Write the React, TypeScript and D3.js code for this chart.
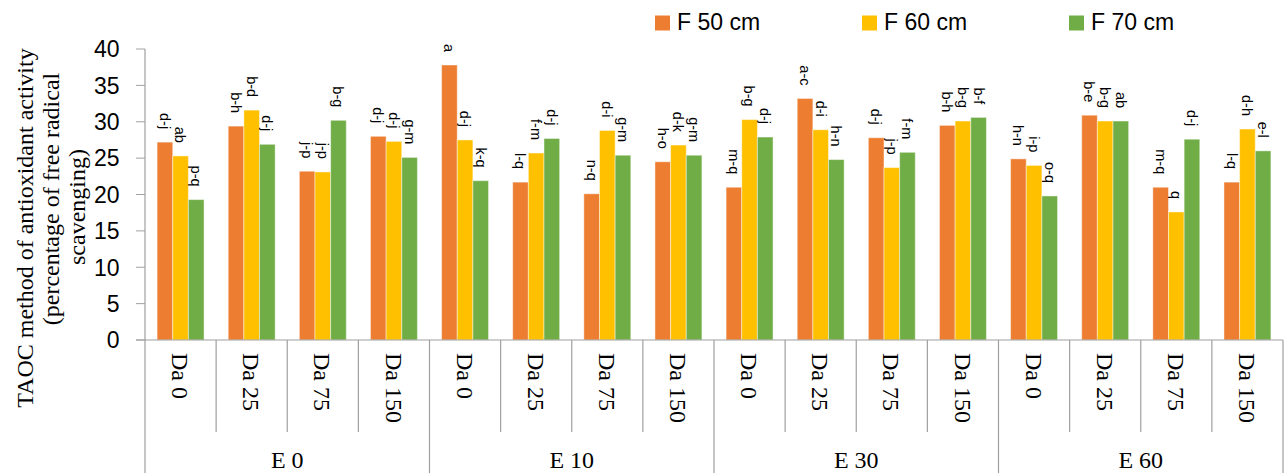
import React from "react";
import * as d3 from "d3";

const groups = ["E 0", "E 10", "E 30", "E 60"];
const doses = ["Da 0", "Da 25", "Da 75", "Da 150"];
const seriesNames = ["F 50 cm", "F 60 cm", "F 70 cm"];
const seriesColors = ["#ED7D31", "#FFC000", "#70AD47"];

const f50 = [27.2, 29.4, 23.2, 28.0, 37.8, 21.7, 20.1, 24.5, 21.0, 33.2, 27.8, 29.5, 24.9, 30.9, 21.0, 21.7];
const f60 = [25.3, 31.6, 23.1, 27.3, 27.5, 25.7, 28.8, 26.8, 30.3, 28.9, 23.7, 30.1, 24.0, 30.1, 17.6, 29.0];
const f70 = [19.3, 26.9, 30.2, 25.1, 21.9, 27.7, 25.4, 25.4, 27.9, 24.8, 25.8, 30.6, 19.8, 30.1, 27.6, 26.0];

const l50 = ["d-j", "b-h", "j-p", "d-j", "a", "l-q", "n-q", "h-o", "m-q", "a-c", "d-j", "b-h", "h-n", "b-e", "m-q", "l-q"];
const l60 = ["ab", "b-d", "j-p", "d-j", "d-j", "f-m", "d-i", "d-k", "b-g", "d-i", "j-p", "b-g", "i-p", "b-g", "q", "d-h"];
const l70 = ["p-q", "d-j", "b-g", "g-m", "k-q", "d-j", "g-m", "g-m", "d-j", "h-n", "f-m", "b-f", "o-q", "ab", "d-j", "e-l"];

const yTicks = [0, 5, 10, 15, 20, 25, 30, 35, 40];

const W = 1284;
const H = 473;
const left = 145;
const right = 1283;
const top = 49;
const base = 340;

export default function App() {
  const cats = d3.range(groups.length * doses.length);
  const x = d3.scaleBand<number>().domain(cats).range([left, right]).paddingInner(0).paddingOuter(0);
  const bw = x.bandwidth();
  const inner = d3.scaleBand<number>().domain([0, 1, 2]).range([bw * 0.17, bw * 0.83]).padding(0);
  const y = d3.scaleLinear().domain([0, 40]).range([base, top]);
  const values = [f50, f60, f70];
  const labels = [l50, l60, l70];
  const axisColor = "#A0A0A0";
  const groupW = bw * doses.length;
  const legendX = [655, 862, 1069];

  return (
    <svg width={W} height={H} style={{ display: "block", position: "absolute", left: 0, top: 0 }}>
      <rect width={W} height={H} fill="#fff" />
      {/* legend */}
      {seriesNames.map((s, i) => (
        <g key={s}>
          <rect x={legendX[i]} y={15.5} width={15} height={15} fill={seriesColors[i]} />
          <text x={legendX[i] + 22} y={30} fontFamily="Liberation Sans, Arial, sans-serif" fontSize={23} fill="#000">
            {s}
          </text>
        </g>
      ))}
      {/* y title */}
      {[
        { t: "TAOC method of antioxidant activity", bx: 33, cy: 228 },
        { t: "(percentage of free radical", bx: 59, cy: 199 },
        { t: "scavenging)", bx: 85, cy: 207 },
      ].map((l) => (
        <text
          key={l.t}
          transform={`translate(${l.bx},${l.cy}) rotate(-90)`}
          textAnchor="middle"
          fontFamily="Liberation Serif, Times New Roman, serif"
          fontSize={24}
          fill="#000"
        >
          {l.t}
        </text>
      ))}
      {/* y ticks */}
      {yTicks.map((t) => (
        <g key={t}>
          <line x1={136} x2={left} y1={y(t)} y2={y(t)} stroke={axisColor} strokeWidth={1} />
          <text
            x={119.5}
            y={y(t)}
            dy="0.36em"
            textAnchor="end"
            fontFamily="Liberation Sans, Arial, sans-serif"
            fontSize={23}
            fill="#000"
          >
            {t}
          </text>
        </g>
      ))}
      {/* bars */}
      {cats.map((c) =>
        values.map((vals, si) => {
          const bx = (x(c) as number) + (inner(si) as number);
          const w = inner.bandwidth();
          const yt = y(vals[c]);
          return (
            <g key={`${c}-${si}`}>
              <rect x={bx} y={yt} width={w} height={base - yt} fill={seriesColors[si]} stroke="#ffffff" strokeOpacity={0.45} strokeWidth={1} />
              <text
                transform={`translate(${bx + w / 2},${yt - 13}) rotate(90)`}
                textAnchor="end"
                dy="0.35em"
                fontFamily="Liberation Sans, Arial, sans-serif"
                fontSize={14.5}
                fill="#000"
              >
                {labels[si][c]}
              </text>
            </g>
          );
        })
      )}
      {/* axes */}
      <line x1={left} x2={left} y1={top} y2={H} stroke={axisColor} strokeWidth={1.2} />
      <line x1={136} x2={right} y1={base} y2={base} stroke={axisColor} strokeWidth={1.2} />
      {cats.map((c) => {
        const xe = (x(c) as number) + bw;
        const isGroupEdge = (c + 1) % doses.length === 0;
        return (
          <line key={`sep${c}`} x1={xe} x2={xe} y1={base} y2={isGroupEdge ? H : 432} stroke={axisColor} strokeWidth={1.2} />
        );
      })}
      {/* category labels */}
      {cats.map((c) => (
        <text
          key={`d${c}`}
          transform={`translate(${(x(c) as number) + bw / 2},353) rotate(90)`}
          dy="0.35em"
          textAnchor="start"
          fontFamily="Liberation Serif, Times New Roman, serif"
          fontSize={24}
          fill="#000"
        >
          {doses[c % doses.length]}
        </text>
      ))}
      {groups.map((g, gi) => (
        <text
          key={g}
          x={left + groupW * gi + groupW / 2}
          y={468}
          textAnchor="middle"
          fontFamily="Liberation Serif, Times New Roman, serif"
          fontSize={24}
          fill="#000"
        >
          {g}
        </text>
      ))}
    </svg>
  );
}
